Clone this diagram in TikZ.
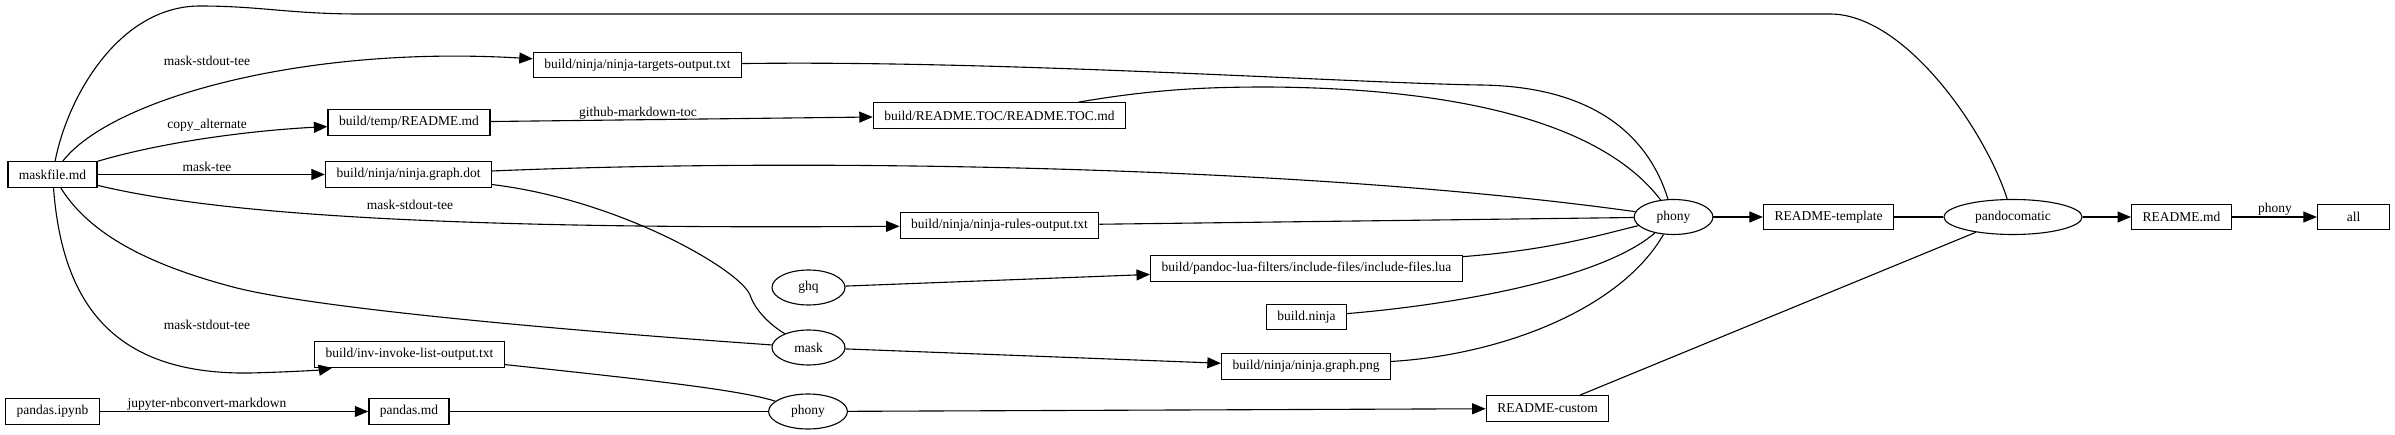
\documentclass[tikz,border=0pt]{standalone}
\usepackage{fontspec}
\setmainfont{Liberation Serif}
\usetikzlibrary{shapes.geometric, arrows.meta}

\begin{document}
\begin{tikzpicture}[x=1pt,y=-1pt,font=\fontsize{13.5}{16}\selectfont,
        file/.style={draw,rectangle,line width=1.3pt,minimum width=72pt,minimum height=25.5pt,inner xsep=11pt,inner ysep=0pt},
        rule/.style={draw,ellipse,line width=1.1pt,minimum width=73pt,minimum height=35pt,inner xsep=11pt,inner ysep=0pt},
        dep/.style={line width=1.1pt},
        gen/.style={dep,-{Triangle[length=13.5pt,width=11pt]}}]
        \useasboundingbox (0,0) rectangle (2395,435);
        %\draw (0,0) rectangle (2395,435);
        \node[file] (maskfile) at (52.5,174.5) {maskfile.md};
        \node[file] (targets) at (637.5,65) {build/ninja/ninja-targets-output.txt};
        \node[file] (tempreadme) at (409,122.5) {build/temp/README.md};
        \node[file] (graphdot) at (408.5,174.5) {build/ninja/ninja.graph.dot};
        \node[file] (readmetoc) at (999.5,115.5) {build/README.TOC/README.TOC.md};
        \node[file] (rulesout) at (999.5,225.5) {build/ninja/ninja-rules-output.txt};
        \node[file] (luafilter) at (1306.5,268.5) {build/pandoc-lua-filters/include-files/include-files.lua};
        \node[file] (buildninja) at (1306.5,317) {build.ninja};
        \node[file] (graphpng) at (1306,366.5) {build/ninja/ninja.graph.png};
        \node[file] (invoke) at (409.5,354.5) {build/inv-invoke-list-output.txt};
        \node[file] (ipynb) at (52.5,411.5) {pandas.ipynb};
        \node[file] (pandasmd) at (409,411.5) {pandas.md};
        \node[file] (custom) at (1547.5,408.5) {README-custom};
        \node[file] (template) at (1828.5,217) {README-template};
        \node[file] (readmemd) at (2181.5,217) {README.md};
        \node[file] (all) at (2353.5,217) {all};
        \node[rule] (ghq) at (808.5,287.5) {ghq};
        \node[rule] (mask) at (808.5,347.5) {mask};
        \node[rule] (phonyb) at (808,411.5) {phony};
        \node[rule] (phonyt) at (1673.5,217) {phony};
        \node[rule] (pandocomatic) at (2013,217) {pandocomatic};
        %labels on the edges
        \node (lbltargets) at (207,61) {mask-stdout-tee};
        \node (lblcopy) at (207,125) {copy\_alternate};
        \node (lbltee) at (207,167) {mask-tee};
        \node (lblrules) at (410,205) {mask-stdout-tee};
        \node (lblinvoke) at (207,325) {mask-stdout-tee};
        \node (lbljupyter) at (207,404) {jupyter-nbconvert-markdown};
        \node (lbltoc) at (638,113) {github-markdown-toc};
        \node (lblphony) at (2275,209) {phony};

        \draw[dep] (maskfile) .. controls (68,95) and (120,6) .. (200,6) .. controls (260,6) and (290,14) .. (360,14) -- (1830,14) .. controls (1905,14) and (1985,130) .. (pandocomatic);
        \draw[gen] (maskfile) .. controls (110,100) and (300,45) .. (targets);
        \draw[gen] (maskfile) .. controls (170,140) and (260,130) .. (tempreadme);
        \draw[gen] (maskfile) -- (graphdot);
        \draw[gen] (maskfile) .. controls (200,210) and (400,230) .. (rulesout);
        \draw[dep] (maskfile) .. controls (90,235) and (150,265) .. (233,287) .. controls (320,310) and (600,333) .. (mask);
        \draw[gen] (maskfile) .. controls (62,300) and (110,375) .. (250,373) .. controls (290,372) and (320,370) .. (invoke);
        \draw[dep] (graphdot) .. controls (620,200) and (740,270) .. (750,295) .. controls (755,310) and (770,325) .. (mask);
        \draw[gen] (tempreadme) -- (readmetoc);
        \draw[gen] (ipynb) -- (pandasmd);
        \draw[dep] (pandasmd) -- (phonyb);
        \draw[dep] (invoke) .. controls (650,380) and (740,390) .. (phonyb);
        \draw[gen] (phonyb) -- (custom);
        \draw[gen] (ghq) -- (luafilter);
        \draw[gen] (mask) -- (graphpng);
        %everything that goes into phony
        \draw[dep] (targets) .. controls (1000,60) and (1350,83) .. (1480,85) .. controls (1580,86) and (1645,125) .. (phonyt);
        \draw[dep] (readmetoc) .. controls (1150,90) and (1200,87) .. (1267,87) .. controls (1450,88) and (1600,120) .. (phonyt);
        \draw[dep] (graphdot) .. controls (800,158) and (1300,165) .. (phonyt);
        \draw[dep] (rulesout) -- (phonyt);
        \draw[dep] (luafilter) .. controls (1550,250) and (1600,235) .. (phonyt);
        \draw[dep] (buildninja) .. controls (1450,305) and (1600,280) .. (phonyt);
        \draw[dep] (graphpng) .. controls (1500,355) and (1620,310) .. (phonyt);
        \draw[gen] (phonyt) -- (template);
        \draw[dep] (template) -- (pandocomatic);
        \draw[dep] (custom) -- (pandocomatic);
        \draw[gen] (pandocomatic) -- (readmemd);
        \draw[gen] (readmemd) -- (all);
\end{tikzpicture}
\end{document}
